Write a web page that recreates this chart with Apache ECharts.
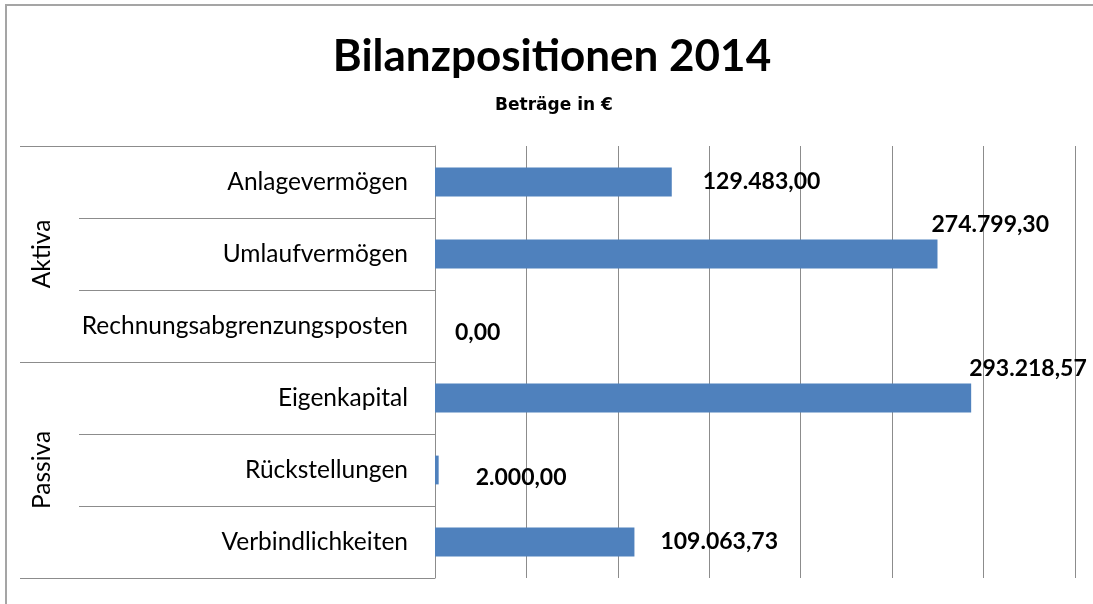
<!DOCTYPE html>
<html>
<head>
<meta charset="utf-8">
<script src="https://cdn.jsdelivr.net/npm/echarts@6/dist/echarts.min.js"></script>
<style>
html,body{margin:0;padding:0;background:#fff;overflow:hidden;}
#wrap{position:relative;width:1093px;height:604px;}
#chart{position:absolute;left:0;top:0;width:1093px;height:604px;}
#frame{position:absolute;left:5px;top:4px;width:2000px;height:2000px;border:2px solid #a5a5a5;pointer-events:none;box-sizing:border-box;}
</style>
</head>
<body>
<div id="wrap"><div id="chart"></div><div id="frame"></div></div>
<script>
const titleText = 'Bilanzpositionen 2014';
const subtitleText = 'Beträge in €';
const categories = ['Anlagevermögen','Umlaufvermögen','Rechnungsabgrenzungsposten','Eigenkapital','Rückstellungen','Verbindlichkeiten'];
const groups = ['Aktiva','Passiva'];
const values = [129483.00, 274799.30, 0.00, 293218.57, 2000.00, 109063.73];
const labelOffsets = [[31,0],[-6,-29],[20,7],[-2,-29],[37,8],[26,0]];

function fmtDE(v){
  const parts = v.toFixed(2).split('.');
  const intPart = parts[0].replace(/\B(?=(\d{3})+(?!\d))/g, '.');
  return intPart + ',' + parts[1];
}

const chart = echarts.init(document.getElementById('chart'), null, {renderer:'canvas'});
const FONT = 'Lato';
chart.setOption({
  animation:false,
  title:[
    {text:titleText,left:547,textAlign:'center',top:30,textStyle:{fontFamily:FONT,fontWeight:'bold',fontSize:44,color:'#000'}},
    {text:subtitleText,left:549,textAlign:'center',top:92,textStyle:{fontFamily:'DejaVu Sans',fontWeight:'bold',fontSize:17,color:'#000'}}
  ],
  grid:{left:435,right:18,top:146,bottom:26,containLabel:false},
  xAxis:{type:'value',min:0,max:350000,interval:50000,
    axisLine:{show:false},axisTick:{show:false},axisLabel:{show:false},
    splitLine:{show:true,lineStyle:{color:'#8c8c8c',width:1}}},
  yAxis:[
    {type:'category',data:categories,inverse:true,
      axisLine:{show:true,lineStyle:{color:'#8c8c8c',width:1}},
      axisTick:{show:true,length:356,alignWithLabel:false,lineStyle:{color:'#8c8c8c',width:1}},
      axisLabel:{show:true,margin:27,fontFamily:FONT,fontSize:24.5,color:'#000'},
      splitLine:{show:false}},
    {type:'category',data:groups,inverse:true,position:'left',offset:415,
      axisLine:{show:false},
      axisTick:{show:true,inside:true,length:415,lineStyle:{color:'#8c8c8c',width:1}},
      axisLabel:{show:true,inside:true,rotate:90,margin:10,fontFamily:FONT,fontSize:24.5,color:'#000'},
      splitLine:{show:false}}
  ],
  series:[{
    type:'bar',yAxisIndex:0,barWidth:'40%',
    data:values.map((v,i)=>({value:v,label:{offset:labelOffsets[i]}})),
    itemStyle:{color:'#4f81bd'},
    label:{show:true,position:'right',distance:0,formatter:p=>fmtDE(p.value),
      fontFamily:FONT,fontWeight:'bold',fontSize:23,color:'#000'}
  }]
});
</script>
</body>
</html>
